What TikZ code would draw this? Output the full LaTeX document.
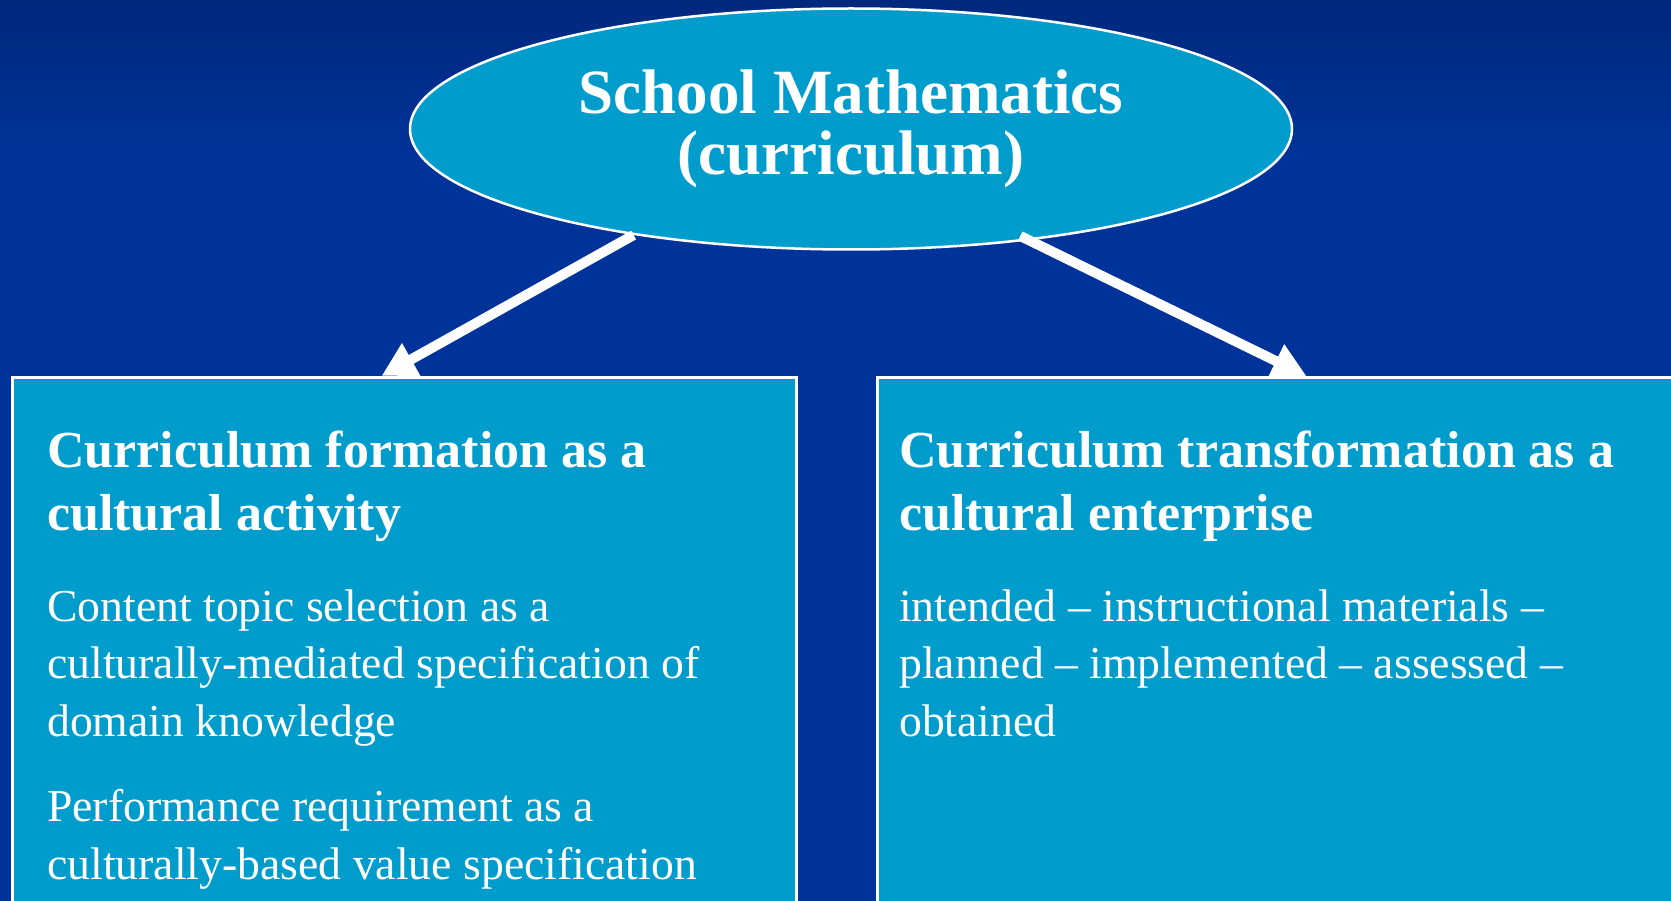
\documentclass[tikz,border=0pt]{standalone}
\usepackage{fontspec}
\setmainfont{Liberation Serif}
\usepackage{tikz}
\usetikzlibrary{arrows.meta,shapes.geometric}

\definecolor{slideblue}{RGB}{0,51,153}
\definecolor{slidetop}{RGB}{0,40,125}
\definecolor{panel}{RGB}{0,156,204}

\begin{document}
\begin{tikzpicture}[x=1pt,y=-1pt]
\tikzstyle{topic}=[draw=white,line width=2.5pt,fill=panel,ellipse,minimum width=882pt,minimum height=241pt,inner sep=0pt,text=white,align=center,font=\bfseries\fontsize{63}{61}\selectfont]
\tikzstyle{panelbox}=[draw=white,line width=3pt,fill=panel,rectangle,anchor=north west,inner sep=0pt,minimum height=600pt]
\tikzstyle{heading}=[anchor=base west,inner sep=0pt,text=white,align=left,font=\bfseries\fontsize{52}{63}\selectfont]
\tikzstyle{body}=[anchor=base west,inner sep=0pt,text=white,align=left,font=\fontsize{45.7}{57.5}\selectfont]
\tikzstyle{link}=[white,line width=10pt,-{Triangle[length=34pt,width=35pt]}]
% slide background
\useasboundingbox (0,0) rectangle (1671,901);
\fill[slideblue] (0,0) rectangle (1671,901);
\shade[top color=slidetop,bottom color=slideblue] (0,0) rectangle (1671,160);
\clip (0,0) rectangle (1671,901);
% top node and the two panels
\node [topic] (school) at (851,129) {School Mathematics\\(curriculum)};
\node [panelbox,minimum width=783.5pt] (left) at (11,376) {};
\node [panelbox,minimum width=859pt] (right) at (875.5,376) {};
\draw [link] (school.206) -- ([xshift=-22.75pt]left.north);
\draw [link,shorten <=-10pt] (school.328) -- (right.north);
% panel texts (anchored on the last line)
\node [heading] (lhead) at (47,530) {Curriculum formation as a\\cultural activity};
\node [body] (lcontent) at (47,736) {Content topic selection as a\\culturally-mediated specification of\\domain knowledge};
\node [body] (lperform) at (47,879) {Performance requirement as a\\culturally-based value specification};
\node [heading] (rhead) at (899,530) {Curriculum transformation as a\\cultural enterprise};
\node [body] (rstages) at (899,736) {intended – instructional materials –\\planned – implemented – assessed –\\obtained};
\end{tikzpicture}
\end{document}
